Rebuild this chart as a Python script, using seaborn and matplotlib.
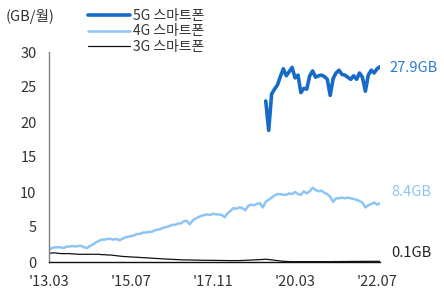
import matplotlib
matplotlib.use("Agg")
import matplotlib.pyplot as plt
import seaborn as sns
import numpy as np
import pandas as pd

# ---- data (monthly, '13.03 .. '22.08) ----
months = pd.period_range("2013-03", periods=114, freq="M")
tick_labels = ["'13.03", "'15.07", "'17.11", "'20.03", "'22.07"]
tick_idx = [0, 28, 56, 84, 112]

g4 = [1.7, 2.0, 2.1, 2.1, 2.1, 2.0, 2.2, 2.2, 2.3, 2.2,
      2.3, 2.3, 2.1, 2.0, 2.3, 2.5, 2.8, 3.0, 3.2, 3.2,
      3.3, 3.3, 3.2, 3.3, 3.1, 3.3, 3.5, 3.6, 3.7, 3.8,
      4.0, 4.0, 4.2, 4.2, 4.3, 4.3, 4.5, 4.6, 4.7, 4.9,
      5.0, 5.1, 5.3, 5.3, 5.5, 5.5, 5.8, 5.9, 5.4, 5.9,
      6.2, 6.4, 6.6, 6.7, 6.8, 6.7, 6.9, 6.8, 6.8, 6.7,
      6.4, 7.0, 7.3, 7.7, 7.6, 7.8, 7.7, 7.4, 8.0, 8.2,
      8.1, 8.3, 8.4, 7.8, 8.6, 8.9, 9.2, 9.5, 9.7, 9.7,
      9.6, 9.6, 9.8, 9.7, 10.0, 9.7, 9.6, 10.1, 9.8, 10.1,
      10.6, 10.3, 10.1, 10.2, 9.9, 9.7, 9.3, 8.6, 9.1, 9.1,
      9.2, 9.1, 9.2, 9.1, 9.0, 8.9, 8.7, 8.5, 7.8, 8.1,
      8.3, 8.5, 8.2, 8.4]

g3 = [1.2, 1.3, 1.3, 1.25, 1.2, 1.2, 1.2, 1.2, 1.15, 1.15,
      1.1, 1.1, 1.1, 1.1, 1.1, 1.1, 1.1, 1.1, 1.05, 1.05,
      1.0, 1.0, 0.95, 0.9, 0.85, 0.8, 0.78, 0.75, 0.72, 0.7,
      0.68, 0.65, 0.62, 0.6, 0.57, 0.55, 0.52, 0.5, 0.47, 0.45,
      0.42, 0.4, 0.38, 0.36, 0.34, 0.32, 0.3, 0.3, 0.29, 0.28,
      0.27, 0.26, 0.25, 0.25, 0.24, 0.24, 0.23, 0.23, 0.22, 0.22,
      0.21, 0.21, 0.2, 0.2, 0.2, 0.2, 0.22, 0.24, 0.26, 0.28,
      0.3, 0.32, 0.34, 0.36, 0.4, 0.35, 0.3, 0.25, 0.2, 0.15,
      0.1, 0.08, 0.06, 0.05, 0.05, 0.05, 0.05, 0.05, 0.05, 0.05,
      0.05, 0.05, 0.05, 0.05, 0.05, 0.05, 0.05, 0.06, 0.06, 0.06,
      0.07, 0.07, 0.07, 0.08, 0.08, 0.08, 0.08, 0.09, 0.09, 0.09,
      0.1, 0.1, 0.1, 0.1]

g5_start = 74
g5 = [23.0, 18.8, 24.0, 24.7, 25.3, 26.5, 27.6, 26.6, 27.2, 27.8,
      26.3, 26.7, 24.2, 24.8, 24.7, 26.6, 27.3, 26.4, 26.6, 26.7,
      26.5, 26.1, 23.8, 26.2, 27.0, 27.4, 26.8, 26.7, 26.4, 26.1,
      26.6, 26.1, 27.0, 26.4, 24.4, 26.7, 27.4, 27.0, 27.6, 27.9]

series_names = ["5G 스마트폰", "4G 스마트폰", "3G 스마트폰"]
end_labels = ["27.9GB", "8.4GB", "0.1GB"]

# ---- build table ----
rows = []
for i, v in enumerate(g3):
    rows.append((i, v, series_names[2]))
for i, v in enumerate(g4):
    rows.append((i, v, series_names[1]))
for k, v in enumerate(g5):
    rows.append((g5_start + k, v, series_names[0]))
df = pd.DataFrame(rows, columns=["t", "val", "series"])

c5 = "#176BC6"
c4 = "#8DC4F4"
c3 = "#111111"
palette = {series_names[0]: c5, series_names[1]: c4, series_names[2]: c3}
widths = {series_names[0]: 2.6, series_names[1]: 1.8, series_names[2]: 0.9}

sns.set_style("white")
plt.rcParams['font.family'] = ['Noto Sans CJK KR', 'DejaVu Sans']

fig = plt.figure(figsize=(4.44, 2.99), dpi=100)
ax = fig.add_axes([49/444, 1 - 262/299, (380-49)/444, (262-52)/299])

for name in [series_names[2], series_names[1], series_names[0]]:
    sub = df[df.series == name]
    sns.lineplot(data=sub, x="t", y="val", ax=ax, color=palette[name],
                 lw=widths[name], label=name, legend=False)

ax.set_xlim(0, 113)
ax.set_ylim(0, 30)
ax.set_yticks([0, 5, 10, 15, 20, 25, 30])
ax.set_xticks(tick_idx)
ax.set_xticklabels(tick_labels)
ax.set_xlabel("")
ax.set_ylabel("")
for s in ["top", "right"]:
    ax.spines[s].set_visible(False)
ax.spines["left"].set_color("#808080")
ax.spines["left"].set_linewidth(1.0)
ax.spines["bottom"].set_color("#111111")
ax.spines["bottom"].set_linewidth(1.0)
ax.tick_params(axis="y", direction="out", length=3, width=0.8, color="#555555",
               labelsize=10.5, labelcolor="#333333", pad=6)
ax.tick_params(axis="x", direction="out", length=4, width=0.8, color="#555555",
               labelsize=10.5, labelcolor="#333333", pad=5)
ax.grid(False)

# end labels
ax.annotate(end_labels[0], xy=(113, g5[-1]), xytext=(7, -1), textcoords="offset points",
            color="#2C7BD2", fontsize=10.5, va="center", annotation_clip=False)
ax.annotate(end_labels[1], xy=(113, g4[-1]), xytext=(8, 8), textcoords="offset points",
            color="#8DC4F4", fontsize=10.5, va="center", annotation_clip=False)
ax.annotate(end_labels[2], xy=(113, g3[-1]), xytext=(8, 6), textcoords="offset points",
            color="#222222", fontsize=10.5, va="center", annotation_clip=False)

# unit label
fig.text(6/444, 1 - 16/299, "(GB/월)", fontsize=10.5, color="#333333", va="center", ha="left")

# legend
handles, labels = ax.get_legend_handles_labels()
order = [labels.index(n) for n in series_names]
leg = fig.legend([handles[i] for i in order], [labels[i] for i in order],
                 loc="upper left", bbox_to_anchor=(88/444, 1 - 9/299),
                 frameon=False, fontsize=10, handlelength=3.0, handletextpad=0.25,
                 labelspacing=0.1, borderpad=0, borderaxespad=0)
for t in leg.get_texts():
    t.set_color("#333333")

fig.savefig("out.png", dpi=100)
